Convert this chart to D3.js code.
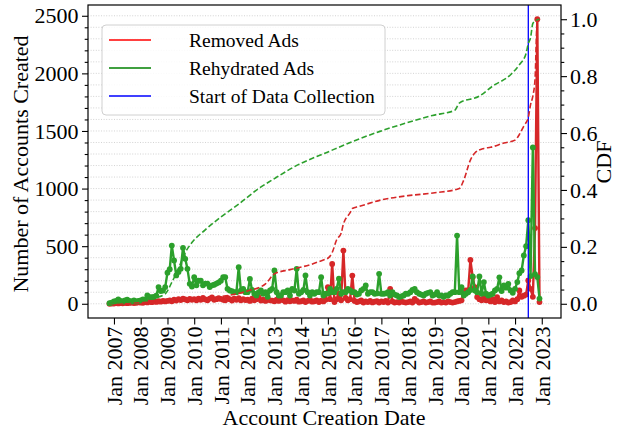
<!DOCTYPE html>
<html><head><meta charset="utf-8">
<script src="https://cdn.jsdelivr.net/npm/d3@7"></script>
<style>
html,body{margin:0;padding:0;background:#fff;}
svg{display:block;font-family:"Liberation Serif","Times New Roman",serif;}
</style></head><body>
<svg id="chart" width="617" height="432"></svg>
<script>
// ---------- data ----------
const firstMonth = "2006-11";
const lastMonth = "2022-12";
// monthly counts, Nov 2006 .. Dec 2022
const removedAds = [
  0, 2,
  2, 5, 3, 6, 4, 8, 5, 7, 10, 6, 8, 12,
  10, 8, 15, 12, 18, 14, 20, 16, 22, 18, 25, 20,
  25, 30, 22, 35, 28, 40, 32, 45, 38, 30, 42, 35,
  40, 30, 45, 35, 50, 38, 30, 45, 55, 35, 40, 48,
  42, 35, 30, 50, 40, 28, 45, 35, 48, 30, 40, 32,
  35, 25, 45, 30, 40, 55, 28, 35, 25, 42, 30, 28,
  22, 35, 25, 38, 30, 18, 32, 22, 30, 25, 35, 18,
  22, 30, 15, 25, 35, 18, 22, 30, 15, 28, 20, 35,
  144, 40, 346, 15, 40, 87, 30, 462, 50, 30, 40, 245,
  25, 15, 20, 30, 10, 20, 15, 25, 12, 18, 22, 10,
  20, 15, 25, 10, 130, 20, 10, 15, 10, 20, 15, 10,
  15, 20, 10, 43, 25, 10, 15, 20, 10, 15, 20, 10,
  10, 15, 20, 10, 15, 10, 20, 15, 10, 15, 20, 25,
  30, 87, 115, 115, 381, 231, 144, 58, 40, 30, 50, 30,
  30, 20, 40, 15, 58, 20, 30, 15, 20, 10, 15, 30,
  20, 40, 115, 60, 70, 80, 202, 130, 60, 657, 2470, 15
];
const rehydratedAds = [
  5, 10,
  20, 25, 38, 25, 20, 30, 35, 25, 20, 29, 20, 25,
  30, 38, 35, 72, 58, 58, 60, 70, 145, 110, 115, 145,
  270, 300, 505, 376, 246, 275, 303, 486, 390, 303, 173, 150,
  231, 160, 200, 200, 160, 175, 175, 145, 160, 165, 175, 185,
  200, 231, 231, 130, 115, 110, 100, 101, 317, 115, 130, 101,
  101, 216, 120, 87, 72, 100, 115, 87, 100, 60, 115, 130,
  289, 101, 72, 72, 101, 101, 115, 72, 130, 115, 303, 87,
  101, 120, 246, 100, 72, 101, 87, 101, 101, 231, 72, 87,
  90, 130, 101, 101, 130, 217, 87, 101, 101, 130, 115, 101,
  101, 80, 87, 116, 130, 159, 87, 101, 101, 87, 90, 260,
  87, 87, 90, 101, 72, 101, 80, 72, 58, 65, 72, 87,
  87, 101, 120, 130, 101, 87, 80, 72, 87, 95, 101, 72,
  80, 101, 72, 72, 60, 72, 72, 87, 101, 101, 592, 101,
  144, 72, 87, 101, 120, 237, 115, 101, 237, 87, 188, 87,
  72, 80, 87, 115, 130, 230, 110, 159, 140, 173, 115, 95,
  130, 188, 266, 289, 420, 500, 725, 240, 1357, 258, 232, 45
];
// CDF curves (right axis), read at sample months
const cdfRemovedDates = ["2006-11","2008-01","2009-06","2011-01","2012-01","2012-09","2013-01","2013-08","2014-05","2014-11","2015-01","2015-03","2015-05","2015-07","2015-08","2015-11","2015-12","2016-03","2017-01","2018-01","2019-01","2019-12","2020-02","2020-05","2020-07","2020-11","2021-02","2021-08","2022-01","2022-03","2022-05","2022-07","2022-08","2022-09","2022-10","2022-11","2022-12"];
const cdfRemoved = [0.0,0.004,0.01,0.025,0.045,0.07,0.105,0.12,0.137,0.154,0.16,0.18,0.225,0.248,0.28,0.32,0.335,0.342,0.365,0.38,0.39,0.405,0.435,0.505,0.53,0.546,0.55,0.565,0.575,0.595,0.625,0.655,0.70,0.73,0.79,1.0,1.0];
const cdfRehydratedDates = ["2006-11","2007-06","2008-01","2008-07","2008-12","2009-03","2009-06","2009-09","2009-12","2010-06","2011-01","2011-09","2012-06","2013-01","2013-12","2014-12","2015-12","2016-12","2017-12","2018-12","2019-10","2019-12","2020-09","2021-03","2021-11","2022-03","2022-06","2022-07","2022-08","2022-09","2022-11","2022-12"];
const cdfRehydrated = [0.0,0.005,0.01,0.02,0.035,0.075,0.125,0.18,0.215,0.26,0.305,0.35,0.405,0.44,0.49,0.53,0.57,0.605,0.635,0.662,0.68,0.705,0.73,0.765,0.805,0.84,0.88,0.915,0.935,0.985,0.998,1.0];
const collectionStart = "2022-07-01";
const xTickYears = [2007,2008,2009,2010,2011,2012,2013,2014,2015,2016,2017,2018,2019,2020,2021,2022,2023];
const yLeftTicks = [0,500,1000,1500,2000,2500];
const yRightTicks = [0,0.2,0.4,0.6,0.8,1.0];
const legendLabels = ["Removed Ads","Rehydrated Ads","Start of Data Collection"];

// ---------- layout ----------
const svg = d3.select("#chart");
const L = 88, R = 561, T = 5, B = 318;
const parseM = d3.timeParse("%Y-%m");
const parseD = d3.timeParse("%Y-%m-%d");
const months = d3.timeMonth.range(parseM(firstMonth), d3.timeMonth.offset(parseM(lastMonth), 1));

const ext = d3.extent(months);
const span = ext[1] - ext[0];
const x = d3.scaleTime()
  .domain([new Date(+ext[0] - 0.05 * span), new Date(+ext[1] + 0.05 * span)])
  .range([L, R]);
const maxV = d3.max(removedAds.concat(rehydratedAds));
const y = d3.scaleLinear().domain([-0.05 * maxV, 1.05 * maxV]).range([B, T]);
const y2 = d3.scaleLinear().domain([-0.05, 1.05]).range([B, T]);

const red = "#d62728", green = "#2ca02c";

// grid
const gridVals = d3.range(0, 2600, 100);
svg.append("g").selectAll("line").data(gridVals).join("line")
  .attr("x1", L).attr("x2", R)
  .attr("y1", d => y(d)).attr("y2", d => y(d))
  .attr("stroke", "#c8c8c8").attr("stroke-width", 0.8)
  .attr("stroke-dasharray", "1,1.6");

// clip
svg.append("clipPath").attr("id", "clip").append("rect")
  .attr("x", L).attr("y", T).attr("width", R - L).attr("height", B - T);
const plot = svg.append("g").attr("clip-path", "url(#clip)");

function drawSeries(vals, color) {
  const pts = months.map((m, i) => [m, vals[i]]);
  plot.append("path").datum(pts)
    .attr("fill", "none").attr("stroke", color).attr("stroke-width", 2.4)
    .attr("stroke-linejoin", "round")
    .attr("d", d3.line().x(d => x(d[0])).y(d => y(d[1])));
  plot.append("g").selectAll("circle").data(pts).join("circle")
    .attr("cx", d => x(d[0])).attr("cy", d => y(d[1])).attr("r", 2.9)
    .attr("fill", color);
}
drawSeries(removedAds, red);
drawSeries(rehydratedAds, green);

// blue vertical line
plot.append("line")
  .attr("x1", x(parseD(collectionStart))).attr("x2", x(parseD(collectionStart)))
  .attr("y1", T).attr("y2", B)
  .attr("stroke", "#0000ff").attr("stroke-width", 1.3);

// CDF lines
function drawCdf(dates, vals, color) {
  const pts = dates.map((d, i) => [parseM(d), vals[i]]);
  plot.append("path").datum(pts)
    .attr("fill", "none").attr("stroke", color).attr("stroke-width", 1.6)
    .attr("stroke-dasharray", "5.5,2.6")
    .attr("d", d3.line().curve(d3.curveMonotoneX).x(d => x(d[0])).y(d => y2(d[1])));
}
drawCdf(cdfRemovedDates, cdfRemoved, red);
drawCdf(cdfRehydratedDates, cdfRehydrated, green);

// axes
const fs = "22px";
function styleAxis(g) {
  g.select(".domain").remove();
  g.selectAll("line").attr("stroke", "#000").attr("stroke-width", 1.1);
  g.selectAll("text").attr("fill", "#000").style("font-size", fs)
    .style("font-family", '"Liberation Serif","Times New Roman",serif');
}
// left major
svg.append("g").attr("transform", `translate(${L},0)`)
  .call(d3.axisLeft(y).tickValues(yLeftTicks).tickFormat(d3.format("d")).tickSize(6).tickPadding(3.5))
  .call(styleAxis);
// left minor
svg.append("g").attr("transform", `translate(${L},0)`)
  .call(d3.axisLeft(y).tickValues(gridVals.filter(v => v % 500 !== 0)).tickFormat("").tickSize(3.3))
  .call(styleAxis);
// right major
svg.append("g").attr("transform", `translate(${R},0)`)
  .call(d3.axisRight(y2).tickValues(yRightTicks).tickFormat(d3.format(".1f")).tickSize(6).tickPadding(3))
  .call(styleAxis);
// right minor
svg.append("g").attr("transform", `translate(${R},0)`)
  .call(d3.axisRight(y2).tickValues(d3.range(0, 21).map(i => i * 0.05).filter((v, i) => i % 4 !== 0)).tickFormat("").tickSize(3.3))
  .call(styleAxis);
// bottom
const xTicks = xTickYears.map(yr => new Date(yr, 0, 1));
const gx = svg.append("g").attr("transform", `translate(0,${B})`)
  .call(d3.axisBottom(x).tickValues(xTicks).tickFormat(d3.timeFormat("Jan %Y")).tickSize(6.5))
  .call(styleAxis);
gx.selectAll("text")
  .attr("transform", "rotate(-90)")
  .attr("text-anchor", "end")
  .attr("x", -8.5).attr("y", 0).attr("dy", "0.33em");

// frame
svg.append("rect").attr("x", L).attr("y", T).attr("width", R - L).attr("height", B - T)
  .attr("fill", "none").attr("stroke", "#000").attr("stroke-width", 1.2);

// axis labels
svg.append("text").attr("x", 324).attr("y", 425).attr("text-anchor", "middle")
  .style("font-size", fs).text("Account Creation Date");
svg.append("text").attr("transform", "translate(28,164) rotate(-90)")
  .attr("text-anchor", "middle").style("font-size", fs).text("Number of Accounts Created");
svg.append("text").attr("transform", "translate(611,162) rotate(-90)")
  .attr("text-anchor", "middle").style("font-size", fs).text("CDF");

// legend
const lg = svg.append("g");
lg.append("rect").attr("x", 102).attr("y", 25).attr("width", 283).attr("height", 90)
  .attr("rx", 4).attr("fill", "#fff").attr("fill-opacity", 0.85)
  .attr("stroke", "#d0d0d0").attr("stroke-width", 1);
const legendColors = ["#ff0000", "#008000", "#0000ff"];
legendLabels.forEach((lab, i) => {
  const yy = 40 + i * 28;
  lg.append("line").attr("x1", 109).attr("x2", 151).attr("y1", yy).attr("y2", yy)
    .attr("stroke", legendColors[i]).attr("stroke-width", 1.5);
  lg.append("text").attr("x", 189).attr("y", yy + 6.8)
    .style("font-size", "19.5px").text(lab);
});
</script>
</body></html>
